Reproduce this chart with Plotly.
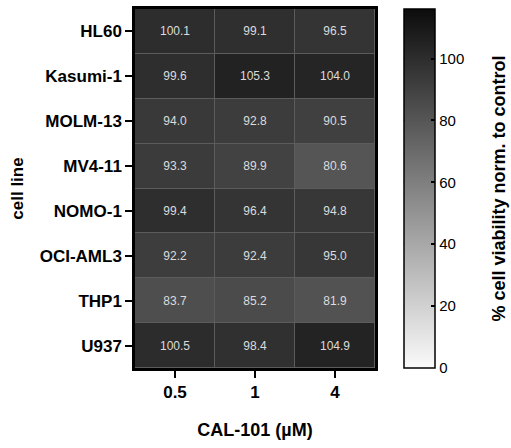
import plotly.graph_objects as go

# CAL-101 treatment: cell viability (% of untreated control) per AML cell line
cell_lines = ["HL60", "Kasumi-1", "MOLM-13", "MV4-11", "NOMO-1", "OCI-AML3", "THP1", "U937"]
concentrations = ["0.5", "1", "4"]
viability = [
    [100.1, 99.1, 96.5],
    [99.6, 105.3, 104.0],
    [94.0, 92.8, 90.5],
    [93.3, 89.9, 80.6],
    [99.4, 96.4, 94.8],
    [92.2, 92.4, 95.0],
    [83.7, 85.2, 81.9],
    [100.5, 98.4, 104.9],
]
cbar_ticks = [0, 20, 40, 60, 80, 100]
Z_MIN, Z_MAX = 0, 116

labels = [[f"{v:.1f}" for v in row] for row in viability]

FONT = "Liberation Sans, Arial, sans-serif"

# colorbar placement in paper units of the plot area
CB_X = 1.12
CB_THICK = 31
PLOT_W = 240

fig = go.Figure(
    go.Heatmap(
        z=viability,
        x=concentrations,
        y=cell_lines,
        text=labels,
        texttemplate="%{text}",
        textfont=dict(family=FONT, size=12, color="#dcdcdc"),
        colorscale=[[0, "#fafafa"], [1, "#0c0c0c"]],
        zmin=Z_MIN,
        zmax=Z_MAX,
        xgap=1,
        ygap=1,
        colorbar=dict(
            x=CB_X, xanchor="left", xpad=0,
            y=0.5, yanchor="middle", ypad=0,
            len=1, lenmode="fraction",
            thickness=CB_THICK,
            outlinewidth=1.5, outlinecolor="black",
            tickvals=cbar_ticks,
            ticks="inside", ticklen=4, tickwidth=1.5, tickcolor="black",
            tickfont=dict(family=FONT, size=15, color="black"),
        ),
    )
)

# matching tick marks along the left edge of the colorbar
for v in cbar_ticks[1:]:
    yp = (v - Z_MIN) / (Z_MAX - Z_MIN)
    fig.add_shape(
        type="line", xref="paper", yref="paper",
        x0=CB_X, x1=CB_X + 4 / PLOT_W, y0=yp, y1=yp,
        line=dict(color="black", width=1.5),
    )

# colorbar title
fig.add_annotation(
    text="<b>% cell viability norm. to control</b>",
    xref="paper", yref="paper",
    x=(498 - 135) / PLOT_W, y=0.5,
    xanchor="center", yanchor="middle",
    textangle=-90, showarrow=False,
    font=dict(family=FONT, size=18, color="black"),
)

fig.update_xaxes(
    type="category",
    showline=True, linewidth=2.5, linecolor="black", mirror=True,
    ticks="outside", ticklen=7, tickwidth=2, tickcolor="black",
    tickfont=dict(family=FONT, size=17, color="black", weight="bold"),
    title=dict(text="<b>CAL-101 (µM)</b>", font=dict(family=FONT, size=18, color="black"), standoff=23),
    showgrid=False, zeroline=False,
)
fig.update_yaxes(
    type="category", autorange="reversed",
    showline=True, linewidth=2.5, linecolor="black", mirror=True,
    ticks="outside", ticklen=7, tickwidth=2, tickcolor="black",
    tickfont=dict(family=FONT, size=17, color="black", weight="bold"),
    title=dict(text="<b>cell line</b>", font=dict(family=FONT, size=17, color="black"), standoff=12),
    showgrid=False, zeroline=False,
)

fig.update_layout(
    width=511, height=448,
    margin=dict(l=135, r=136, t=6, b=80),
    paper_bgcolor="white", plot_bgcolor="#5c5c5c",
)

fig.write_html("out.html")
